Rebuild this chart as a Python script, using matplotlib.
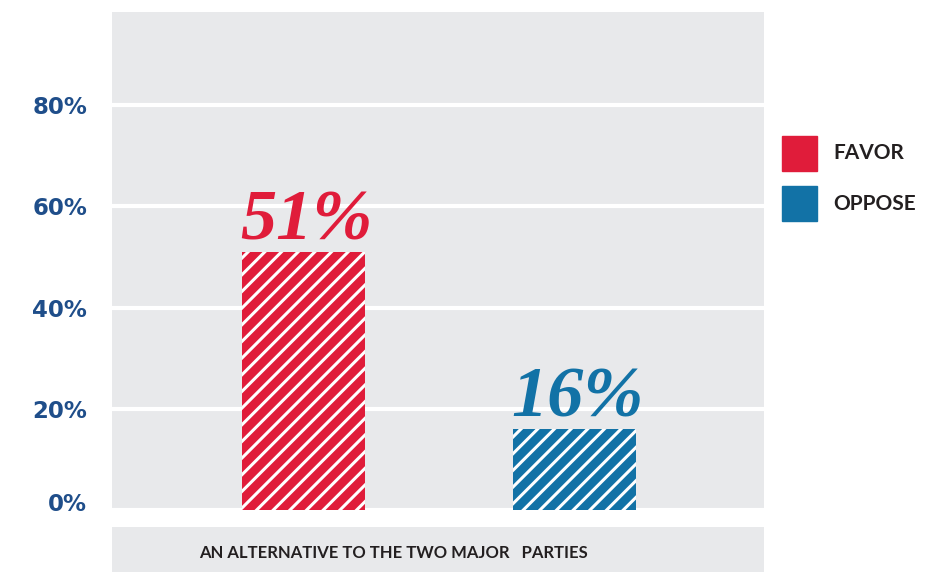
import matplotlib
matplotlib.use("Agg")
import matplotlib.pyplot as plt
from matplotlib.transforms import ScaledTranslation

# datos
categorias = ["FAVOR", "OPPOSE"]
valores = [51, 16]
colores = ["#E01C3A", "#1272A6"]
etiqueta_eje = "AN ALTERNATIVE TO THE TWO MAJOR   PARTIES"
ticks = [0, 20, 40, 60, 80]
tick_labels = ["0%", "20%", "40%", "60%", "80%"]

plt.rcParams['hatch.linewidth'] = 2.2

fig = plt.figure(figsize=(9.38, 5.72), dpi=100)
W, H = 938, 572

# eje principal (gris)
ax = fig.add_axes([112 / W, (H - 512) / H, 652 / W, 500 / H])
ax.set_facecolor("#E8E9EB")
for s in ax.spines.values():
    s.set_visible(False)

pos = [0, 1]
for p, v, c in zip(pos, valores, colores):
    ax.bar(p, v, width=0.454, color=c, edgecolor="white", linewidth=0,
           hatch="//", zorder=3)
    ax.text(p + 0.01, v + 2.4, f"{v}%", ha="center", va="baseline", color=c,
            fontsize=52, fontweight="bold", fontstyle="italic",
            family="Liberation Serif", zorder=4)

ax.set_xlim(-0.707, 1.699)
ax.set_ylim(-0.4, 98.4)
ax.set_xticks([])
ax.set_yticks(ticks)
ax.set_yticklabels(tick_labels, color="#1F4E8A", fontsize=16.5, fontweight="bold")
ax.tick_params(axis="y", length=0, pad=18)
# subir un poco la etiqueta del 0%
lbl0 = ax.get_yticklabels()[0]
lbl0.set_transform(lbl0.get_transform() + ScaledTranslation(0, 8 / 100, fig.dpi_scale_trans))
ax.grid(axis="y", color="white", linewidth=3, zorder=1)
ax.set_axisbelow(True)

# banda de la etiqueta
ax2 = fig.add_axes([112 / W, 0, 652 / W, 45 / H])
ax2.set_facecolor("#E8E9EB")
for s in ax2.spines.values():
    s.set_visible(False)
ax2.set_xticks([])
ax2.set_yticks([])
ax2.text((393 - 112) / 652, 0.42, etiqueta_eje, ha="center", va="center",
         fontsize=12, fontweight="bold", color="#231F20", family="Lato",
         transform=ax2.transAxes)

# leyenda
ys = [153, 204]
for cat, c, y in zip(categorias, colores, ys):
    fig.patches.append(plt.Rectangle((782 / W, (H - y - 17.5) / H), 35 / W, 35 / H,
                                     color=c, transform=fig.transFigure, figure=fig))
    fig.text(833 / W, (H - y) / H, cat, ha="left", va="center", fontsize=15,
             fontweight="bold", color="#231F20", family="Lato")

fig.savefig("out.png", dpi=100)
